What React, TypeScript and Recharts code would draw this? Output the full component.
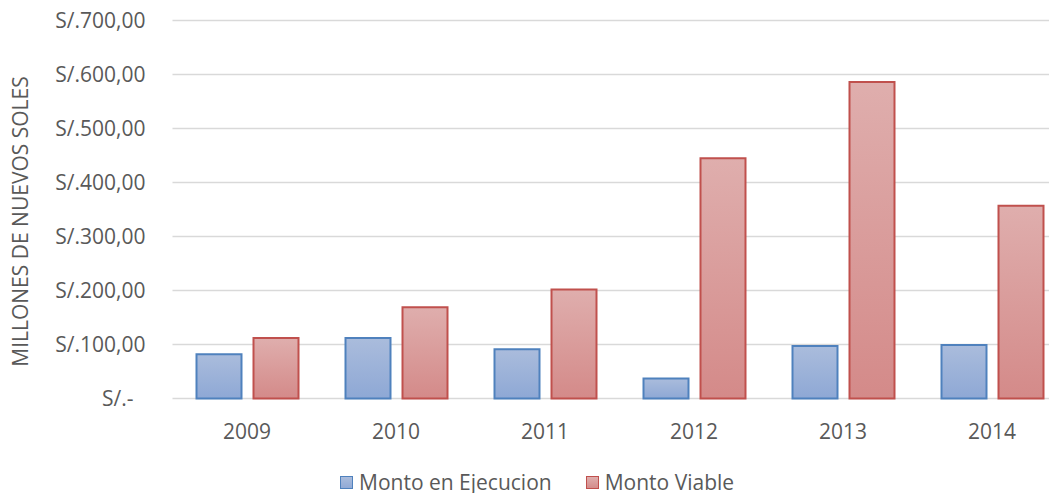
import React from "react";
import { BarChart, Bar, XAxis, YAxis, CartesianGrid, Legend } from "recharts";

const years = ["2009", "2010", "2011", "2012", "2013", "2014"];
const montoEjecucion = [82, 112, 91, 37, 97, 99];
const montoViable = [112, 169, 202, 445, 586, 357];
const yTicks = [0, 100, 200, 300, 400, 500, 600, 700];

const data = years.map((year, i) => ({
  year,
  ejecucion: montoEjecucion[i],
  viable: montoViable[i],
}));

const FONT = '"Open Sans", sans-serif';
const TEXT = "#595959";
const FS = 21;

const formatSoles = (v: number) =>
  v === 0 ? "S/.-" : `S/.${v.toFixed(2).replace(".", ",")}`;

function YTick({ x, y, payload }: any) {
  const v = payload.value as number;
  return (
    <text
      x={v === 0 ? x - 12 : x}
      y={y}
      dy="0.355em"
      textAnchor="end"
      fill={TEXT}
      fontSize={FS}
      fontFamily={FONT}
    >
      {formatSoles(v)}
    </text>
  );
}

function AxisTitle() {
  return (
    <text
      x={20}
      y={221.5}
      transform="rotate(-90, 20, 221.5)"
      textAnchor="middle"
      dominantBaseline="central"
      fill={TEXT}
      fontSize={FS}
      fontFamily={FONT}
    >
      MILLONES DE NUEVOS SOLES
    </text>
  );
}

function Swatch({ fill, stroke }: { fill: string; stroke: string }) {
  return (
    <span
      style={{
        display: "inline-block",
        width: 11,
        height: 11,
        background: fill,
        border: `1.5px solid ${stroke}`,
        marginRight: 6,
      }}
    />
  );
}

function LegendContent() {
  return (
    <div
      style={{
        display: "flex",
        alignItems: "center",
        fontFamily: FONT,
        fontSize: FS,
        lineHeight: `${FS}px`,
        color: TEXT,
        whiteSpace: "nowrap",
      }}
    >
      <Swatch fill="linear-gradient(#aabcdc, #91aad6)" stroke="#4f81bd" />
      <span style={{ marginRight: 34 }}>Monto en Ejecucion</span>
      <Swatch fill="linear-gradient(#dfaead, #d48c8b)" stroke="#c0504d" />
      <span>Monto Viable</span>
    </div>
  );
}

export default function App() {
  return (
    <div
      style={{
        position: "absolute",
        left: 0,
        top: 0,
        width: 1049,
        height: 493,
        overflow: "hidden",
        background: "#fff",
      }}
    >
      <BarChart
        width={1080}
        height={493}
        data={data}
        margin={{ top: 20.5, right: 13.5, left: 0, bottom: 64.5 }}
        barSize={45}
        barGap={12}
      >
        <defs>
          <linearGradient id="gradBlue" x1="0" y1="0" x2="0" y2="1">
            <stop offset="0%" stopColor="#aabcdc" />
            <stop offset="100%" stopColor="#8ea8d5" />
          </linearGradient>
          <linearGradient id="gradRed" x1="0" y1="0" x2="0" y2="1">
            <stop offset="0%" stopColor="#dfaead" />
            <stop offset="100%" stopColor="#d48a89" />
          </linearGradient>
        </defs>
        <CartesianGrid vertical={false} stroke="#d9d9d9" strokeWidth={1.5} />
        <XAxis
          dataKey="year"
          axisLine={false}
          tickLine={false}
          tickSize={0}
          tickMargin={26}
          height={30}
          tick={{ fill: TEXT, fontSize: FS, fontFamily: FONT }}
        />
        <YAxis
          domain={[0, 700]}
          ticks={yTicks}
          width={172.5}
          axisLine={false}
          tickLine={false}
          tickSize={0}
          tickMargin={27}
          tick={<YTick />}
          label={<AxisTitle />}
        />
        <Legend
          layout="horizontal"
          verticalAlign="middle"
          align="center"
          content={<LegendContent />}
          wrapperStyle={{ top: 472, left: 340, width: "auto" }}
        />
        <Bar
          dataKey="ejecucion"
          name="Monto en Ejecucion"
          fill="url(#gradBlue)"
          stroke="#4f81bd"
          strokeWidth={2}
          isAnimationActive={false}
        />
        <Bar
          dataKey="viable"
          name="Monto Viable"
          fill="url(#gradRed)"
          stroke="#c0504d"
          strokeWidth={2}
          isAnimationActive={false}
        />
      </BarChart>
    </div>
  );
}
